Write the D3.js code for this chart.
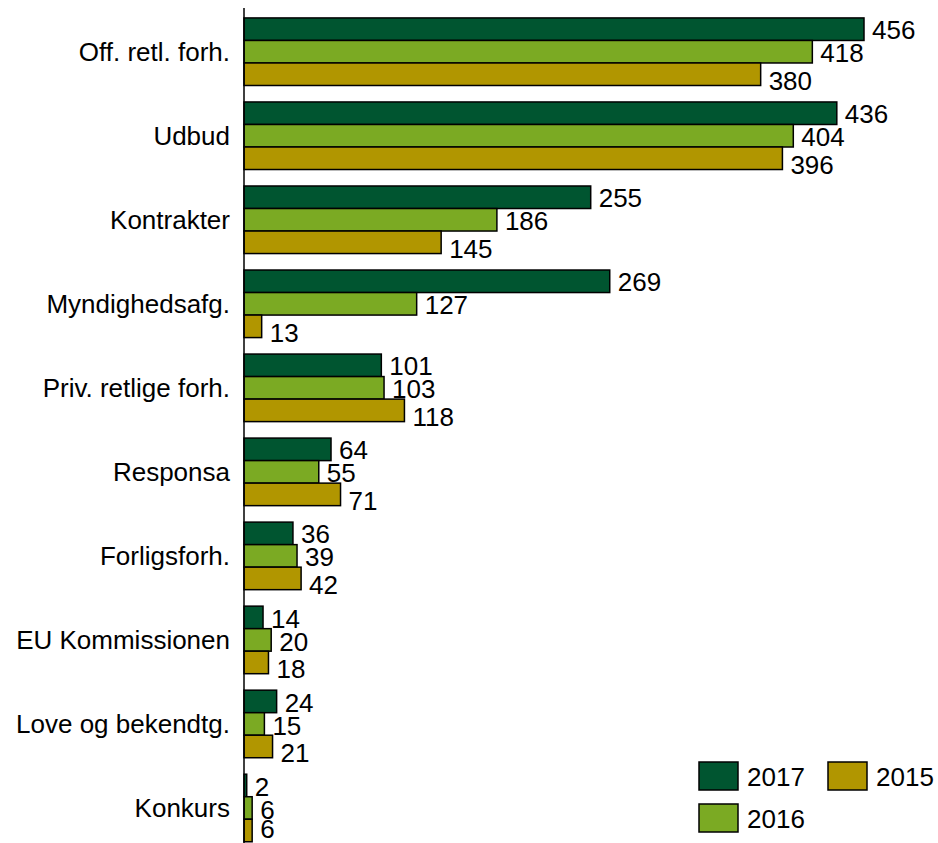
<!DOCTYPE html>
<html>
<head>
<meta charset="utf-8">
<script src="https://cdn.jsdelivr.net/npm/d3@7"></script>
<style>
  body { margin: 0; background: #fff; }
  text { font-family: Arial, "Liberation Sans", sans-serif; fill: #000; }
</style>
</head>
<body>
<div id="chart"></div>
<script>
// categories, top to bottom
const categories = ['Off. retl. forh.', 'Udbud', 'Kontrakter', 'Myndighedsafg.', 'Priv. retlige forh.',
  'Responsa', 'Forligsforh.', 'EU Kommissionen', 'Love og bekendtg.', 'Konkurs']
const years = ['2017', '2016', '2015']
const values2017 = [456, 436, 255, 269, 101, 64, 36, 14, 24, 2]
const values2016 = [418, 404, 186, 127, 103, 55, 39, 20, 15, 6]
const values2015 = [380, 396, 145, 13, 118, 71, 42, 18, 21, 6]
const colors = ['#005530', '#7baa23', '#b19600']

const series = [values2017, values2016, values2015]

const width = 938, height = 843
const x0 = 244

const svg = d3.select('#chart').append('svg')
  .attr('width', width)
  .attr('height', height)

// x scale: 456 -> 864
let x = d3.scaleLinear()
  .domain([0, 456])
  .range([x0, 864])

// group scale
let y = d3.scaleBand()
  .domain(categories)
  .range([9.7, 850])
  .paddingInner(0.196)
  .paddingOuter(0.098)

let ySub = d3.scaleBand()
  .domain(years)
  .range([0, y.bandwidth()])

// label vertical nudges per series (as in the original)
const labelShift = [1, 1.5, 6.5]

years.forEach((yr, s) => {
  let g = svg.append('g')
  g.selectAll('rect').data(series[s])
    .enter().append('rect')
      .attr('x', x0)
      .attr('y', (d, i) => y(categories[i]) + ySub(yr))
      .attr('width', d => x(d) - x0)
      .attr('height', ySub.bandwidth())
      .attr('fill', colors[s])
      .attr('stroke', '#000')
      .attr('stroke-width', 1.5)

  g.selectAll('text').data(series[s])
    .enter().append('text')
      .attr('x', d => x(d) + 8)
      .attr('y', (d, i) => Math.min(829, y(categories[i]) + ySub(yr) + ySub.bandwidth() / 2 + labelShift[s]))
      .attr('dy', '0.35em')
      .style('font-size', '26px')
      .text(d => d)
})

// category labels
svg.append('g').selectAll('text').data(categories)
  .enter().append('text')
    .attr('x', 230)
    .attr('y', d => y(d) + y.bandwidth() / 2)
    .attr('dy', '0.35em')
    .attr('text-anchor', 'end')
    .style('font-size', '26px')
    .text(d => d)

// axis line
svg.append('line')
  .attr('x1', x0).attr('x2', x0)
  .attr('y1', 8).attr('y2', height)
  .attr('stroke', '#000')
  .attr('stroke-width', 1.5)

// legend
const legendPos = [[699, 762], [699, 804], [828, 762]]
let legend = svg.append('g')
years.forEach((yr, s) => {
  let [lx, ly] = legendPos[s]
  legend.append('rect')
    .attr('x', lx).attr('y', ly)
    .attr('width', 39).attr('height', 28)
    .attr('fill', colors[s])
    .attr('stroke', '#000')
    .attr('stroke-width', 1.5)
  legend.append('text')
    .attr('x', lx + 48)
    .attr('y', ly + 15)
    .attr('dy', '0.35em')
    .style('font-size', '26px')
    .text(yr)
})
</script>
</body>
</html>
